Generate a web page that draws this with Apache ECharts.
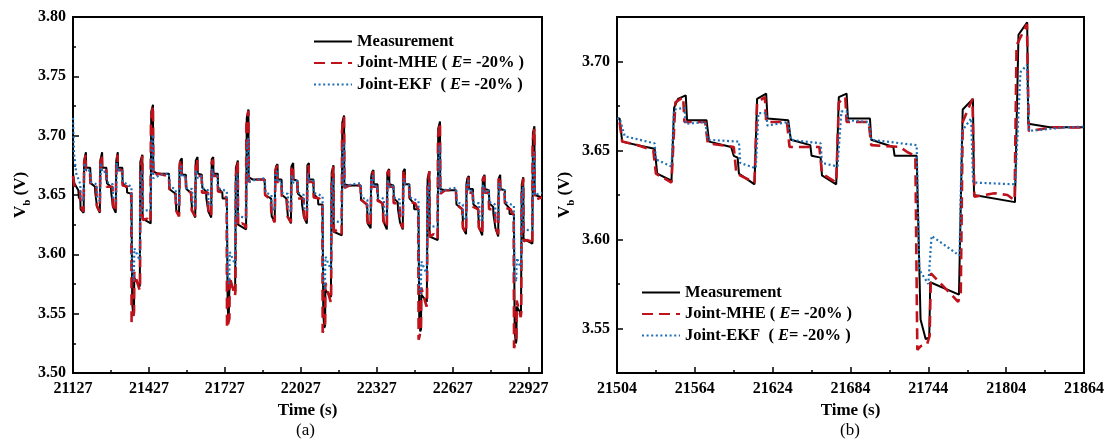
<!DOCTYPE html>
<html>
<head>
<meta charset="utf-8">
<script src="https://cdn.jsdelivr.net/npm/echarts/dist/echarts.min.js"></script>
<style>
html,body{margin:0;padding:0;background:#fff;}
#chart{width:1109px;height:442px;}
</style>
</head>
<body>
<div id="chart"></div>
<script>
// ---- data: [time (s), V_b (V)] ----
const seriesNames = ['Measurement', 'Joint-MHE', 'Joint-EKF'];
const panelCaptions = ['(a)', '(b)'];

const measurement = [
  // cycle 0
  [21127,3.668],[21132,3.660],[21148,3.654],[21150,3.648],[21156,3.646],[21157,3.638],[21169,3.635],
  [21171,3.679],[21178,3.686],[21179,3.673],[21195,3.673],[21197,3.660],[21214,3.657],[21215,3.652],[21221,3.651],[21222,3.640],[21233,3.635],
  [21235,3.679],[21242,3.686],[21243,3.673],[21259,3.673],[21261,3.660],[21277,3.657],[21278,3.652],[21284,3.651],[21285,3.640],[21296,3.635],
  [21298,3.679],[21304,3.686],[21305,3.673],[21322,3.673],[21323,3.660],[21340,3.656],[21341,3.652],[21358,3.651],
  [21361,3.559],[21365,3.548],[21368,3.550],[21369,3.580],[21391,3.573],[21393,3.678],[21401,3.684],[21402,3.630],[21434,3.626],[21436,3.720],[21443,3.726],[21444,3.670],[21461,3.668],
  // cycle 1
  [21506,3.668],[21508,3.655],[21520,3.653],[21533,3.651],[21535,3.637],[21546,3.633],[21548,3.674],[21551,3.679],[21557,3.681],[21558,3.667],[21573,3.667],[21575,3.655],[21592,3.652],[21594,3.647],[21597,3.646],[21598,3.637],[21610,3.631],
  [21612,3.679],[21619,3.682],[21620,3.668],[21636,3.667],[21638,3.656],[21653,3.653],[21654,3.647],[21661,3.646],[21662,3.636],[21673,3.631],
  [21675,3.680],[21681,3.682],[21682,3.668],[21699,3.668],[21700,3.656],[21717,3.652],[21718,3.647],[21735,3.647],
  [21738,3.555],[21742,3.544],[21744.7,3.545],[21745.5,3.576],[21767.6,3.569],[21769,3.570],[21770.5,3.673],[21778.4,3.679],[21779.2,3.625],[21810.8,3.621],[21813.5,3.715],[21820.2,3.722],[21821,3.665],[21837.7,3.663],[21884,3.663],
  // cycle 2
  [21886,3.650],[21910,3.647],[21912,3.632],[21924,3.628],[21926,3.669],[21929,3.674],[21935,3.676],[21936,3.663],[21951,3.663],[21953,3.650],[21970,3.647],[21972,3.642],[21975,3.641],[21976,3.632],[21988,3.626],
  [21990,3.674],[21997,3.677],[21998,3.663],[22014,3.662],[22016,3.651],[22031,3.648],[22032,3.642],[22039,3.641],[22040,3.631],[22051,3.626],
  [22053,3.675],[22059,3.677],[22060,3.663],[22077,3.663],[22078,3.651],[22095,3.647],[22096,3.642],[22113,3.642],
  [22116,3.549],[22120,3.538],[22123,3.540],[22124,3.570],[22146,3.564],[22147,3.565],[22149,3.669],[22156,3.675],[22157,3.619],[22189,3.616],[22191,3.711],[22198,3.717],[22199,3.659],[22216,3.658],[22263,3.658],
  // cycle 3
  [22265,3.646],[22289,3.642],[22291,3.626],[22303,3.622],[22305,3.665],[22308,3.669],[22314,3.671],[22315,3.659],[22330,3.659],[22332,3.646],[22349,3.643],[22351,3.638],[22354,3.637],[22355,3.627],[22367,3.621],
  [22369,3.669],[22376,3.672],[22377,3.659],[22393,3.658],[22395,3.647],[22410,3.644],[22411,3.638],[22418,3.637],[22419,3.627],[22430,3.621],
  [22432,3.670],[22438,3.672],[22439,3.659],[22456,3.659],[22457,3.647],[22474,3.643],[22475,3.638],[22492,3.638],
  [22495,3.546],[22499,3.535],[22502,3.537],[22503,3.566],[22525,3.560],[22526,3.561],[22528,3.664],[22535,3.670],[22536,3.615],[22568,3.612],[22570,3.706],[22577,3.712],[22578,3.655],[22595,3.654],[22640,3.654],
  // cycle 4
  [22642,3.642],[22666,3.638],[22668,3.622],[22680,3.617],[22682,3.660],[22685,3.664],[22691,3.666],[22692,3.655],[22707,3.655],[22709,3.642],[22726,3.639],[22728,3.634],[22731,3.633],[22732,3.622],[22744,3.616],
  [22746,3.664],[22753,3.667],[22754,3.655],[22770,3.654],[22772,3.643],[22787,3.640],[22788,3.634],[22795,3.633],[22796,3.622],[22807,3.615],
  [22809,3.664],[22815,3.667],[22816,3.655],[22833,3.654],[22834,3.643],[22851,3.639],[22852,3.634],[22869,3.634],
  [22872,3.537],[22876,3.525],[22879,3.527],[22880,3.556],[22897,3.550],[22898,3.551],[22900,3.659],[22906,3.665],[22907,3.613],[22942,3.609],[22944,3.702],[22950,3.708],[22951,3.650],[22980,3.648]
];

const jointMHE = [
  // cycle 0
  [21127,3.666],[21132,3.658],[21148,3.656],[21155,3.653],[21157,3.640],[21169,3.636],
  [21171,3.677],[21177,3.684],[21178,3.671],[21194,3.671],[21196,3.659],[21219,3.657],[21221,3.641],[21233,3.636],
  [21235,3.677],[21241,3.684],[21242,3.671],[21258,3.671],[21260,3.657],[21283,3.657],[21285,3.641],[21296,3.636],
  [21298,3.677],[21303,3.684],[21304,3.671],[21321,3.671],[21323,3.658],[21345,3.657],[21351,3.654],[21357,3.652],
  [21358.5,3.543],[21361,3.545],[21366,3.546],[21368,3.551],[21369,3.585],[21390,3.570],[21392,3.575],[21393,3.671],[21401,3.683],[21402.5,3.629],[21420,3.630],[21433,3.627],[21435,3.714],[21443,3.725],[21444.5,3.666],[21463,3.668],
  // cycle 1
  [21506,3.666],[21508,3.655],[21520,3.653],[21532,3.650],[21534,3.637],[21546,3.632],[21549,3.677],[21555,3.680],[21556,3.666],[21572,3.666],[21574,3.654],[21594,3.652],[21596,3.637],[21610,3.632],
  [21612,3.677],[21618,3.680],[21619,3.666],[21635,3.666],[21637,3.652],[21660,3.652],[21662,3.637],[21673,3.632],
  [21675,3.677],[21680,3.680],[21681,3.666],[21698,3.666],[21700,3.653],[21722,3.652],[21728,3.649],[21734,3.647],
  [21735.5,3.538],[21738,3.540],[21743,3.541],[21745,3.546],[21746,3.581],[21767,3.565],[21769,3.570],[21770.5,3.666],[21778,3.679],[21779.5,3.624],[21795,3.626],[21805,3.625],[21810.5,3.622],[21812,3.709],[21820,3.721],[21821.5,3.661],[21840,3.663],[21884,3.663],
  // cycle 2
  [21886,3.650],[21909,3.646],[21911,3.632],[21924,3.627],[21927,3.671],[21933,3.675],[21934,3.661],[21950,3.661],[21952,3.649],[21972,3.647],[21974,3.632],[21988,3.627],
  [21990,3.672],[21996,3.675],[21997,3.661],[22013,3.661],[22015,3.647],[22038,3.647],[22040,3.632],[22051,3.627],
  [22053,3.672],[22058,3.675],[22059,3.661],[22076,3.661],[22078,3.648],[22100,3.647],[22106,3.644],[22112,3.642],
  [22113.5,3.534],[22116,3.536],[22121,3.537],[22123,3.542],[22124,3.576],[22145,3.560],[22147,3.565],[22148.5,3.661],[22156,3.674],[22157.5,3.619],[22173,3.621],[22183,3.620],[22188.5,3.617],[22190,3.704],[22198,3.716],[22199.5,3.656],[22218,3.658],[22263,3.658],
  // cycle 3
  [22265,3.646],[22288,3.642],[22290,3.628],[22303,3.623],[22306,3.667],[22312,3.670],[22313,3.657],[22329,3.657],[22331,3.645],[22351,3.643],[22353,3.628],[22367,3.623],
  [22369,3.668],[22375,3.671],[22376,3.657],[22392,3.657],[22394,3.643],[22417,3.643],[22419,3.628],[22430,3.622],
  [22432,3.668],[22437,3.671],[22438,3.657],[22455,3.657],[22457,3.644],[22479,3.643],[22485,3.640],[22491,3.638],
  [22492.5,3.528],[22495,3.530],[22500,3.531],[22502,3.537],[22503,3.572],[22524,3.556],[22526,3.561],[22527.5,3.657],[22535,3.670],[22536.5,3.615],[22552,3.617],[22562,3.616],[22567.5,3.613],[22569,3.699],[22577,3.711],[22578.5,3.651],[22597,3.654],[22640,3.654],
  // cycle 4
  [22642,3.642],[22665,3.638],[22667,3.623],[22680,3.618],[22683,3.662],[22689,3.665],[22690,3.652],[22706,3.652],[22708,3.640],[22728,3.638],[22730,3.623],[22744,3.617],
  [22746,3.663],[22752,3.666],[22753,3.652],[22769,3.652],[22771,3.638],[22794,3.638],[22796,3.623],[22807,3.617],
  [22809,3.663],[22814,3.666],[22815,3.652],[22832,3.652],[22834,3.639],[22856,3.638],[22862,3.635],[22868,3.633],
  [22869.5,3.521],[22872,3.523],[22877,3.524],[22879,3.530],[22880,3.561],[22896,3.547],[22898,3.551],[22899.5,3.652],[22906,3.664],[22907.5,3.611],[22920,3.612],[22935,3.611],[22941.5,3.608],[22943,3.695],[22950,3.706],[22951.5,3.646],[22980,3.648]
];

const jointEKF = [
  // cycle 0
  [21127,3.715],[21131,3.685],[21140,3.668],[21156,3.659],[21157,3.648],[21169,3.645],
  [21172,3.677],[21178,3.678],[21179,3.670],[21195,3.671],[21197,3.661],[21221,3.659],[21222,3.648],[21234,3.645],
  [21237,3.677],[21242,3.677],[21243,3.669],[21259,3.670],[21261,3.661],[21284,3.659],[21285,3.648],[21297,3.645],
  [21300,3.677],[21304,3.677],[21305,3.671],[21321,3.671],[21323,3.661],[21358,3.657],
  [21360,3.586],[21367,3.578],[21368,3.578],[21369.5,3.605],[21391,3.595],[21393,3.664],[21400,3.671],[21401.5,3.637],[21434,3.637],[21438,3.697],[21443,3.701],[21444.5,3.664],[21473,3.667],
  // cycle 1
  [21506,3.668],[21510,3.658],[21533,3.654],[21534,3.645],[21546,3.641],[21548,3.673],[21556,3.674],[21557,3.665],[21572,3.666],[21574,3.656],[21598,3.655],[21599,3.643],[21611,3.640],
  [21613,3.671],[21619,3.671],[21620,3.664],[21636,3.666],[21638,3.656],[21661,3.654],[21662,3.643],[21674,3.641],
  [21677,3.672],[21681,3.672],[21682,3.667],[21698,3.666],[21700,3.656],[21735,3.653],
  [21737,3.583],[21744,3.575],[21745,3.575],[21746.5,3.602],[21768,3.591],[21770,3.661],[21777,3.668],[21778.5,3.632],[21811,3.631],[21815,3.694],[21820,3.698],[21821.5,3.661],[21850,3.663],[21884,3.664],
  // cycle 2
  [21888,3.652],[21911,3.650],[21912,3.641],[21924,3.637],[21926,3.669],[21934,3.670],[21935,3.661],[21950,3.662],[21952,3.652],[21976,3.651],[21977,3.639],[21989,3.636],
  [21991,3.667],[21997,3.667],[21998,3.660],[22014,3.662],[22016,3.652],[22039,3.650],[22040,3.639],[22052,3.637],
  [22055,3.668],[22059,3.668],[22060,3.663],[22076,3.662],[22078,3.652],[22113,3.649],
  [22115,3.579],[22122,3.571],[22123,3.571],[22124.5,3.598],[22146,3.587],[22148,3.657],[22155,3.664],[22156.5,3.628],[22189,3.627],[22193,3.690],[22198,3.694],[22199.5,3.657],[22228,3.659],[22263,3.660],
  // cycle 3
  [22267,3.648],[22290,3.646],[22291,3.637],[22303,3.633],[22305,3.665],[22313,3.666],[22314,3.657],[22329,3.658],[22331,3.648],[22355,3.647],[22356,3.635],[22368,3.632],
  [22370,3.663],[22376,3.663],[22377,3.656],[22393,3.658],[22395,3.648],[22418,3.646],[22419,3.635],[22431,3.633],
  [22434,3.664],[22438,3.664],[22439,3.659],[22455,3.658],[22457,3.648],[22492,3.645],
  [22494,3.575],[22501,3.567],[22502,3.567],[22503.5,3.594],[22525,3.583],[22527,3.653],[22534,3.660],[22535.5,3.624],[22568,3.623],[22572,3.688],[22577,3.692],[22578.5,3.653],[22607,3.655],[22640,3.656],
  // cycle 4
  [22644,3.644],[22667,3.642],[22668,3.633],[22680,3.629],[22682,3.661],[22690,3.662],[22691,3.653],[22706,3.654],[22708,3.644],[22732,3.643],[22733,3.631],[22745,3.628],
  [22747,3.659],[22753,3.659],[22754,3.652],[22770,3.654],[22772,3.644],[22795,3.642],[22796,3.631],[22808,3.629],
  [22811,3.660],[22815,3.660],[22816,3.655],[22832,3.654],[22834,3.644],[22869,3.641],
  [22871,3.582],[22878,3.577],[22879,3.577],[22880.5,3.597],[22897,3.588],[22899,3.650],[22905,3.657],[22906.5,3.621],[22942,3.620],[22946,3.682],[22950,3.686],[22951.5,3.650],[22980,3.652]
];

// ---- chart ----
const FONT = '"Liberation Serif", "Times New Roman", serif';
const chart = echarts.init(document.getElementById('chart'), null, {renderer: 'canvas'});

const styles = [
  {color: '#000000', width: 2, type: 'solid'},
  {color: '#c0121b', width: 2.6, type: [11, 6]},
  {color: '#1f6fb5', width: 2.2, type: [2, 2.6]}
];
const datasets = [measurement, jointMHE, jointEKF];

function axisCommon() {
  return {
    axisLine: {onZero: false, lineStyle: {color: '#000', width: 2}},
    axisTick: {inside: true, length: 6, lineStyle: {color: '#000', width: 1.5}},
    minorTick: {show: true, splitNumber: 2, length: 3, lineStyle: {color: '#000', width: 1.5}},
    splitLine: {show: false},
    minorSplitLine: {show: false},
    axisLabel: {color: '#000', fontFamily: FONT, fontWeight: 'bold', fontSize: 16, margin: 8}
  };
}

const xName = {name: 'Time (s)', nameLocation: 'middle', nameGap: 26,
  nameTextStyle: {color: '#000', fontFamily: FONT, fontWeight: 'bold', fontSize: 17}};
const yName = {name: '{v|V}{s|b}{v| (V)}', nameLocation: 'middle', nameGap: 44, nameRotate: 90,
  nameTextStyle: {color: '#000', rich: {
    v: {fontFamily: FONT, fontWeight: 'bold', fontSize: 17, lineHeight: 17, verticalAlign: 'top', color: '#000'},
    s: {fontFamily: FONT, fontWeight: 'bold', fontSize: 11, lineHeight: 11, verticalAlign: 'top', padding: [10, 0, 0, 0], color: '#000'}
  }}};

const xAxes = [
  Object.assign(axisCommon(), xName, {type: 'value', gridIndex: 0, min: 21127, max: 22980, interval: 300}),
  Object.assign(axisCommon(), xName, {type: 'value', gridIndex: 1, min: 21504, max: 21864, interval: 60})
];
xAxes[0].axisLabel = Object.assign({}, xAxes[0].axisLabel, {showMaxLabel: false, formatter: v => String(Math.round(v))});
xAxes[1].axisLabel = Object.assign({}, xAxes[1].axisLabel, {formatter: v => String(Math.round(v))});

const yAxes = [
  Object.assign(axisCommon(), yName, {type: 'value', gridIndex: 0, min: 3.5, max: 3.8, interval: 0.05}),
  Object.assign(axisCommon(), yName, {type: 'value', gridIndex: 1, min: 3.525, max: 3.725, splitNumber: 4})
];
yAxes[0].axisLabel = Object.assign({}, yAxes[0].axisLabel, {margin: 7, formatter: v => v.toFixed(2)});
yAxes[1].axisLabel = Object.assign({}, yAxes[1].axisLabel, {margin: 7, showMinLabel: false, showMaxLabel: false,
  formatter: v => (Math.abs(v * 20 - Math.round(v * 20)) < 1e-6 ? v.toFixed(2) : '')});

const series = [];
[0, 1].forEach(p => {
  seriesNames.forEach((n, i) => {
    series.push({
      type: 'line', name: n, data: datasets[i], xAxisIndex: p, yAxisIndex: p,
      symbol: 'none', showSymbol: false, animation: false, clip: true, z: 2 + i,
      itemStyle: {color: styles[i].color},
      lineStyle: {color: styles[i].color, width: styles[i].width, type: styles[i].type}
    });
  });
});

function legendFmt(name) {
  if (name === 'Joint-MHE') return 'Joint-MHE ( {i|E}= -20% )';
  if (name === 'Joint-EKF') return 'Joint-EKF  ( {i|E}= -20% )';
  return name;
}
const legendText = {color: '#000', fontFamily: FONT, fontWeight: 'bold', fontSize: 16.5, lineHeight: 17,
  rich: {i: {fontFamily: FONT, fontWeight: 'bold', fontStyle: 'italic', fontSize: 16.5, lineHeight: 17, color: '#000'}}};
function mkLegend(left, top) {
  return {data: seriesNames, orient: 'vertical', left: left, top: top, padding: 0,
    itemWidth: 38, itemHeight: 14, itemGap: 4.5, selectedMode: false,
    itemStyle: {opacity: 0, borderWidth: 0},
    formatter: legendFmt, textStyle: legendText};
}

chart.setOption({
  backgroundColor: '#ffffff',
  animation: false,
  grid: [
    {left: 73, right: 567, top: 17, bottom: 69, show: true, borderColor: '#000', borderWidth: 2, backgroundColor: 'rgba(0,0,0,0)'},
    {left: 617, right: 25, top: 17, bottom: 69, show: true, borderColor: '#000', borderWidth: 2, backgroundColor: 'rgba(0,0,0,0)'}
  ],
  xAxis: xAxes,
  yAxis: yAxes,
  legend: [mkLegend(313, 33), mkLegend(641, 284)],
  graphic: [
    {type: 'text', left: 296, top: 422, style: {text: panelCaptions[0], font: '17px ' + FONT, fill: '#000'}},
    {type: 'text', left: 840, top: 422, style: {text: panelCaptions[1], font: '17px ' + FONT, fill: '#000'}}
  ],
  series: series
});
</script>
</body>
</html>
